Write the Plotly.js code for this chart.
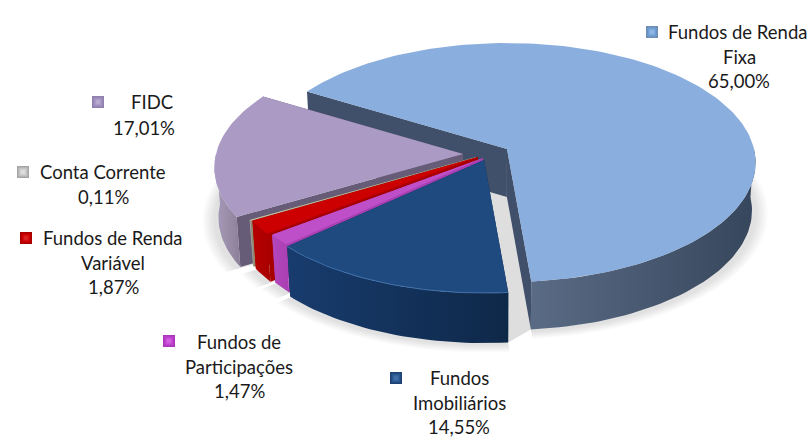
<!DOCTYPE html>
<html><head><meta charset="utf-8">
<script src="https://cdn.plot.ly/plotly-3.0.1.min.js"></script>
<style>html,body{margin:0;padding:0;background:#fff}#c{width:809px;height:446px}</style>
</head><body><div id="c"></div>
<script>
// ---- data ----
const categories = ["Fundos de Renda Fixa","FIDC","Conta Corrente","Fundos de Renda Variável","Fundos de Participações","Fundos Imobiliários"];
const shares = [65.00,17.01,0.11,1.87,1.47,14.55];
const labelLines = [["Fundos de Renda","Fixa"],["FIDC"],["Conta Corrente"],["Fundos de Renda","Variável"],["Fundos de","Participações"],["Fundos","Imobiliários"]];

// ---- style ----
const topColors = ["#8aaede","#ab9bc4","#c9c2a8","#cc0000","#bf4fc9","#1e4a80"];
const wallLeft  = ["#5a6b85","#a89cbc","#aaa","#b80000","#b347bd","#183c6e"];
const wallRight = ["#36465c","#8c8098","#999","#a80000","#a83fb2","#0e2848"];
const edgeColors= ["#41506a","#665c78","#8f8a70","#a80000","#a83fb2","#0e2848"];
const apexes = [[507,149],[463,154],[476,157],[478,157],[483,158],[484,160]];
const depths = [48,50,46,48,48,50];
const START = 85, S = 118, K = 0.113, A = 247, LEAN = 0.014, MIDX = 500;

// ---- perspective pie geometry ----
function proj(apex, deg, r){
  r = r===undefined?1:r;
  const t = deg*Math.PI/180, u = r*Math.cos(t), v = r*Math.sin(t), w = 1-K*v;
  return [apex[0]+A*u/w, apex[1]+S*v/w];
}
function arc(apex,a,b,r){const n=Math.max(2,Math.ceil(Math.abs(a-b)/1.5)),o=[];for(let i=0;i<=n;i++)o.push(proj(apex,a+(b-a)*i/n,r));return o;}
function poly(pts,fill,extra){
  const p=pts.concat([pts[0]]);
  return Object.assign({type:'scatter',mode:'lines',x:p.map(q=>q[0]),y:p.map(q=>q[1]),fill:'toself',fillcolor:fill,line:{width:0},hoverinfo:'skip'},extra||{});
}
const down=(p,d)=>[p[0]+(MIDX-p[0])*LEAN,p[1]+d];
const total = shares.reduce((s,v)=>s+v,0);
let cur = START; const spans = shares.map(v=>{const a=cur,b=cur-v/total*360;cur=b;return [a,b];});

const traces=[];
// soft shadow
for(let i=10;i>=1;i--){
  spans.forEach((sp,k)=>{
    if(k==2)return;
    const ap=down(apexes[k],depths[k]+2);
    traces.push(poly([ap].concat(arc(ap,sp[0],sp[1],1+0.005*i)),'rgba(70,70,70,0.017)'));
  });
}
// gap between the large slice and its neighbour
traces.push(poly([apexes[5],down(apexes[0],depths[0]),down(proj(apexes[0],spans[0][0]),depths[0]),down(proj(apexes[5],START),depths[5])],'#dedede'));

spans.forEach((sp,k)=>{
  const ap=apexes[k], d=depths[k];
  const hi=Math.max(sp[0],sp[1]), lo=Math.min(sp[0],sp[1]);
  // radial walls
  [sp[0],sp[1]].forEach(a=>{
    const e=proj(ap,a);
    traces.push(poly([ap,e,down(e,d),down(ap,d)],edgeColors[k]));
  });
  // outer wall: only the arc part on the viewer's side
  let wa=null,wb=null;
  for(let sh=-720;sh<=720;sh+=360){
    const l=Math.max(lo+sh,0),h=Math.min(hi+sh,180);
    if(h>l){wa=l;wb=h;}
  }
  if(wa!==null){
    const top=arc(ap,wa,wb), bot=top.map(p=>down(p,d)).reverse();
    traces.push(poly(top.concat(bot),wallLeft[k],{fillgradient:{type:'horizontal',colorscale:[[0,wallLeft[k]],[1,wallRight[k]]]}}));
  }
  // top face
  traces.push(poly([ap].concat(arc(ap,sp[0],sp[1])),topColors[k]));
});
// lighter rim on the front slice
const rim=arc(apexes[5],spans[5][0],spans[5][1]);
traces.push({type:'scatter',mode:'lines',x:rim.map(p=>p[0]),y:rim.map(p=>p[1]),line:{color:'#3f6fa8',width:1},hoverinfo:'skip'});

// ---- labels ----
const labelLineX = [[738,739],[152],[103],[113,113],[239,239],[459,459]];
const labelLineY = [[32,57],[102],[172],[238,263],[342,367],[378,403]];
const pctX = [739,144,103,113,239,459];
const pctY = [81,128,197,287,391,427];
const keyX = [652,98,23,26,169,396];
const keyY = [32,102,172,238,341,378];
const keyColors = ["#6f8db4","#8f80ac","#a6a6a6","#a80000","#a838b8","#1e4072"];
const keyMid    = ["#6f9ed6","#a08fc0","#c4c4c4","#cc0000","#c040d0","#2a568e"];
const keyLight  = ["#8fb6e4","#b8a8d0","#dcdcdc","#d82020","#d060dc","#3f6ca4"];
const fmt=v=>v.toFixed(2).replace('.',',')+'%';
const ann=[];
const mk=(x,y,t)=>({x,y,text:t,xref:'x',yref:'y',showarrow:false,xanchor:'center',yanchor:'middle',font:{family:'Lato, "Open Sans", sans-serif',size:18.5,color:'#1a1a1a'}});
categories.forEach((c,i)=>{
  labelLines[i].forEach((t,j)=>ann.push(mk(labelLineX[i][j],labelLineY[i][j],t)));
  ann.push(mk(pctX[i],pctY[i],fmt(shares[i])));
});
[[12,keyColors],[9,keyMid],[5,keyLight]].forEach(([s,c])=>traces.push({type:'scatter',mode:'markers',x:keyX,y:keyY,marker:{symbol:'square',size:s,color:c},hoverinfo:'skip'}));

Plotly.newPlot('c',traces,{
  width:809,height:446,margin:{l:0,r:0,t:0,b:0},showlegend:false,
  paper_bgcolor:'#fff',plot_bgcolor:'#fff',
  xaxis:{range:[0,809],visible:false,fixedrange:true},
  yaxis:{range:[446,0],visible:false,fixedrange:true},
  annotations:ann
},{displayModeBar:false,staticPlot:true});
</script></body></html>
